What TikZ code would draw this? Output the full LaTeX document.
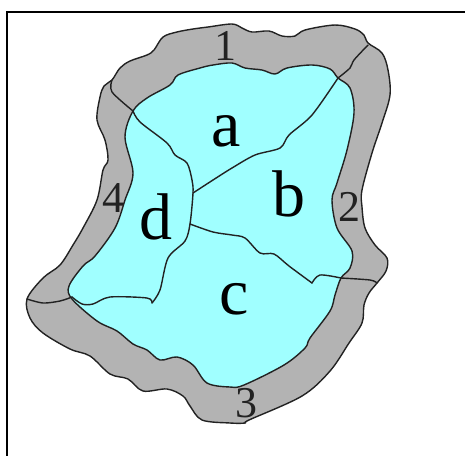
\documentclass[tikz,border=0pt]{standalone}
\usepackage{fontspec}
\setmainfont{Liberation Serif}
\definecolor{ringgray}{HTML}{B3B3B3}
\definecolor{mapcyan}{HTML}{A0FFFF}
\definecolor{inkline}{HTML}{222222}
\tikzset{
  outerregion/.style={fill=ringgray,draw=inkline,line width=1.4pt,line join=round},
  innerregion/.style={fill=mapcyan,draw=inkline,line width=1.4pt,line join=round},
  border/.style={draw=inkline,line width=1.4pt,line join=round,line cap=round},
  framerule/.style={draw=black,line width=1.8pt},
  biglabel/.style={font=\fontsize{66}{66}\selectfont,inner sep=0pt,text=black},
  numlabel/.style={font=\fontsize{44}{44}\selectfont,inner sep=0pt,text=inkline}
}
\begin{document}
\begin{tikzpicture}[x=1pt,y=-1pt]
\useasboundingbox (0,0) rectangle (465,456);
\draw[framerule] (465,12) -- (7,12) -- (7,456);
\draw[outerregion] plot[smooth cycle,tension=0.55] coordinates {
(112,80)(120,68)(130,61)(147,55)(154,50)(163,37)(177,32)(193,29)(208,27)(232,24)(242,28)(252,32)(269,31)(282,36)(295,36)(305,30)(335,25)(355,29)(364,35)(368,43)
(382,53)(388,70)(390,95)(382,123)(372,153)(362,190)(362,207)(365,228)(375,245)(387,258)(386,271)(377,283)
(369,293)(364,305)(362,323)(349,343)(330,371)(302,396)(249,420)(245,423)(230,423)(202,420)(190,406)(183,396)(167,389)(143,391)(128,379)(110,374)(90,356)(70,349)(43,333)(30,318)(27,299)
(43,278)(60,265)(73,245)(83,228)(97,200)(103,170)(108,160)(105,140)(97,120)(100,97)(104,86)};
\draw[innerregion] plot[smooth cycle,tension=0.55] coordinates {
(133,111)(147,98)(170,85)(178,75)(200,68)(213,65)(232,63)(245,68)(262,70)(275,74)(287,68)(312,65)(330,69)(338,78)
(350,88)(354,113)(347,150)(337,183)(332,200)(337,228)(352,251)(350,268)(341,278)
(335,295)(330,311)(310,338)(305,348)(284,365)(244,385)(230,387)(207,383)(193,365)(177,357)(160,360)(147,350)(133,344)(117,331)(97,321)(72,299)
(69,286)(83,266)(95,256)(115,228)(125,200)(133,173)(125,137)};
% ring dividers
\draw[border] plot[smooth,tension=0.5] coordinates {(112,80)(112,92)(133,111)};
\draw[border] plot[smooth,tension=0.5] coordinates {(368,45)(354,60)(350,68)(338,78)};
\draw[border] plot[smooth,tension=0.5] coordinates {(341,278)(370,280)(377,283)};
\draw[border] plot[smooth,tension=0.5] coordinates {(27,299)(43,303)(60,301)(72,297)};
% inner dividers
\draw[border] plot[smooth,tension=0.5] coordinates {(133,111)(140,122)(167,143)(175,155)(187,163)(192,180)(193,193)(190,224)(185,241)(168,258)(160,290)(152,303)};
\draw[border] plot[smooth,tension=0.5] coordinates {(152,303)(147,298)(110,297)(93,304)(82,304)(72,297)};
\draw[border] plot[smooth,tension=0.5] coordinates {(193,193)(213,180)(232,168)(255,155)(280,148)(289,135)(312,115)(338,78)};
\draw[border] plot[smooth,tension=0.5] coordinates {(190,224)(213,232)(232,235)(245,238)(260,253)(274,254)(289,266)(312,283)};
\draw[border] plot[smooth,tension=0.5] coordinates {(312,283)(320,275)(341,278)};
\node[numlabel] (n1) at (225,46) {1};
\node[numlabel] (n2) at (349,207) {2};
\node[numlabel] (n3) at (246,403) {3};
\node[numlabel] (n4) at (113,198) {4};
\node[biglabel] (la) at (226,131) {a};
\node[biglabel] (lb) at (289,194) {b};
\node[biglabel] (lc) at (234,299) {c};
\node[biglabel] (ld) at (156,217) {d};
\end{tikzpicture}
\end{document}
